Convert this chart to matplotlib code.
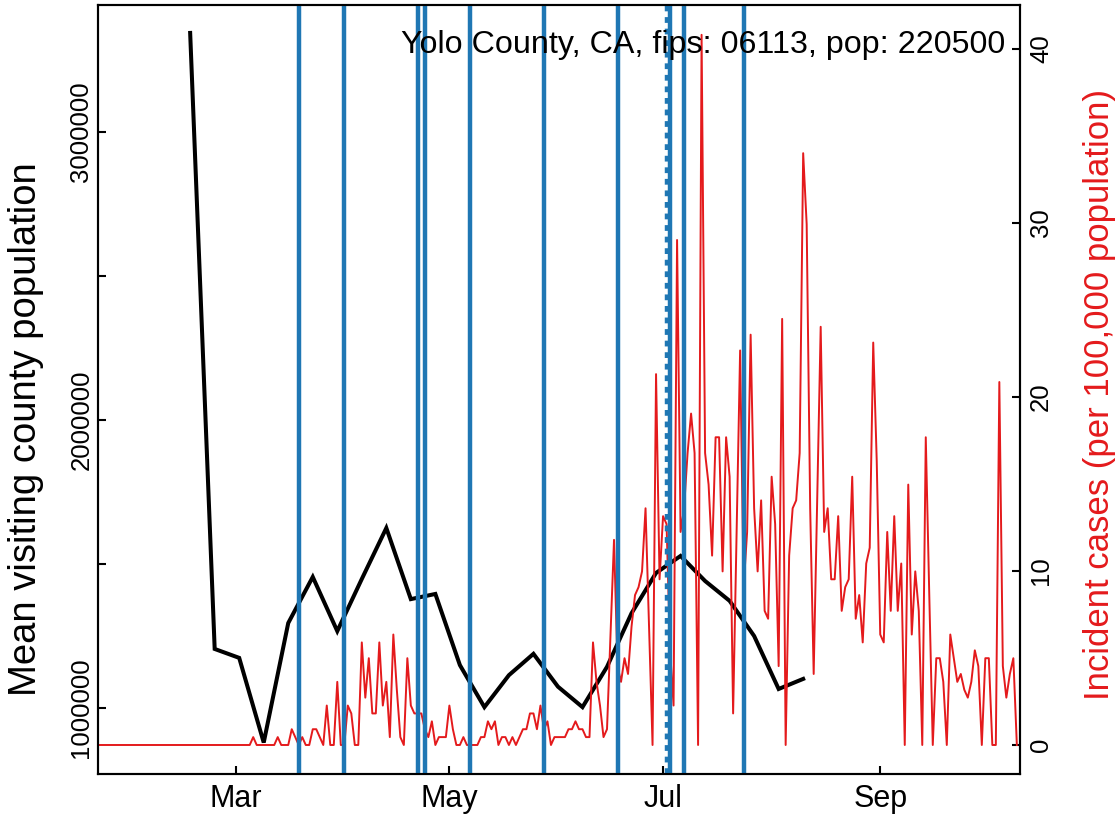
import numpy as np
import matplotlib
matplotlib.use('Agg')
import matplotlib.pyplot as plt
import matplotlib.dates as mdates

plt.rcParams['font.family'] = ['Liberation Sans', 'DejaVu Sans']

pop = 220500
title = "Yolo County, CA, fips: 06113, pop: 220500"

# weekly mean visiting county population, Mondays from 2020-02-17
visit_start = '2020-02-17'
visit_pop = [3344000, 1205000, 1174000, 880000, 1295000, 1455000, 1267000,
             1448000, 1625000, 1378000, 1396000, 1149000, 1003000, 1114000,
             1188000, 1074000, 1003000, 1143000, 1329000, 1469000, 1528000,
             1441000, 1372000, 1250000, 1066000, 1101000]

# daily new cases, 2020-01-22 .. 2020-10-10
cases_jan = [0, 0, 0, 0, 0, 0, 0, 0, 0, 0]
cases_feb = [0, 0, 0, 0, 0, 0, 0, 0, 0, 0, 0, 0, 0, 0, 0, 0, 0, 0, 0, 0,
             0, 0, 0, 0, 0, 0, 0, 0, 0]
cases_mar = [0, 0, 0, 0, 0, 1, 0, 0, 0, 0, 0, 0, 1, 0, 0, 0, 2, 1, 0, 1,
             0, 0, 2, 2, 1, 0, 5, 0, 0, 8, 0]
cases_apr = [0, 5, 4, 0, 0, 13, 6, 11, 4, 4, 13, 5, 8, 1, 14, 7, 1, 0, 11, 5,
             4, 4, 4, 2, 1, 3, 0, 1, 1, 1]
cases_may = [5, 2, 0, 0, 1, 0, 0, 0, 0, 1, 1, 3, 2, 3, 0, 1, 1, 0, 1, 0,
             1, 2, 2, 4, 4, 2, 5, 2, 3, 0, 1]
cases_jun = [1, 1, 1, 2, 2, 3, 2, 2, 1, 1, 13, 8, 5, 1, 2, 14, 26, 10, 8, 11,
             9, 15, 19, 20, 22, 30, 15, 0, 47, 21]
cases_jul = [29, 28, 12, 5, 64, 27, 30, 37, 42, 37, 0, 90, 37, 33, 24, 39, 39, 22, 39, 34,
             4, 27, 50, 20, 27, 52, 30, 22, 31, 17, 16]
cases_aug = [34, 28, 10, 54, 0, 24, 30, 31, 37, 75, 66, 30, 9, 31, 53, 27, 30, 21, 21, 29,
             17, 20, 21, 34, 16, 19, 13, 23, 25, 51, 36]
cases_sep = [14, 13, 27, 17, 29, 17, 23, 0, 33, 14, 22, 17, 0, 39, 19, 0, 11, 11, 8, 0,
             14, 11, 8, 9, 7, 6, 8, 12, 10, 0]
cases_oct = [11, 11, 0, 0, 46, 10, 6, 9, 11, 0]

# policy change dates (vertical lines)
event_dates = ['2020-03-19', '2020-04-01', '2020-04-22', '2020-04-24', '2020-05-07',
               '2020-05-28', '2020-06-18', '2020-07-03', '2020-07-07', '2020-07-24']
dashed_dates = ['2020-07-02']

cases = np.array(cases_jan + cases_feb + cases_mar + cases_apr + cases_may +
                 cases_jun + cases_jul + cases_aug + cases_sep + cases_oct)
incidence = cases / pop * 100000
case_dates = np.arange(np.datetime64('2020-01-22'), np.datetime64('2020-10-11'))
visit_dates = np.datetime64(visit_start) + np.arange(len(visit_pop)) * 7

red = '#e41a1c'
blue = '#1f77b4'

fig = plt.figure(figsize=(11.19, 8.17), dpi=100)
ax = fig.add_axes([98 / 1119, 1 - 774 / 817, 922 / 1119, 769 / 817])
ax.plot(visit_dates, visit_pop, color='black', lw=2.9, solid_joinstyle='miter')
ax.set_ylim(770800, 3441000)
ax.set_yticks([1000000, 1500000, 2000000, 2500000, 3000000])
ax.set_yticklabels(['1000000', '', '2000000', '', '3000000'])

mar1 = mdates.date2num(np.datetime64('2020-03-01'))
ax.set_xlim(mar1 - 39.31, mar1 + 223.9)
ax.xaxis.set_major_locator(mdates.MonthLocator(bymonth=[3, 5, 7, 9]))
ax.xaxis.set_major_formatter(mdates.DateFormatter('%b'))

ax2 = ax.twinx()
ax2.plot(case_dates, incidence, color=red, lw=1.4)
ax2.set_ylim(-1.667, 42.53)
ax2.set_yticks([0, 10, 20, 30, 40])
ax2.set_xlim(mar1 - 39.31, mar1 + 223.9)

for d in event_dates:
    ax2.axvline(np.datetime64(d), color=blue, lw=3.2)
for d in dashed_dates:
    ax2.axvline(np.datetime64(d), color=blue, lw=3.2, ls=(0, (1.3, 1.3)))

for a in (ax, ax2):
    for s in a.spines.values():
        s.set_linewidth(1.5)
        s.set_color('black')

ax.tick_params(axis='x', direction='in', length=6, width=1.5, labelsize=22, pad=7)
ax.tick_params(axis='y', direction='in', length=6, width=1.5, labelsize=18.5, pad=3.3)
for lab in ax.get_yticklabels():
    lab.set_rotation(90)
    lab.set_va('center')
ax2.tick_params(axis='y', direction='in', length=6, width=1.5, labelsize=18.5, pad=6.5)
for lab in ax2.get_yticklabels():
    lab.set_rotation(90)
    lab.set_va('center')

fig.text(26 / 1119, 1 - 429 / 817, 'Mean visiting county population',
         rotation=90, ha='center', va='center', fontsize=27.5)
fig.text(1100 / 1119, 1 - 394 / 817, 'Incident cases (per 100,000 population)',
         rotation=90, ha='center', va='center', fontsize=25, color=red)

fig.text(1005 / 1119, 1 - 45 / 817, title, ha='right', va='center', fontsize=23.2)

fig.savefig('out.png', dpi=100)
